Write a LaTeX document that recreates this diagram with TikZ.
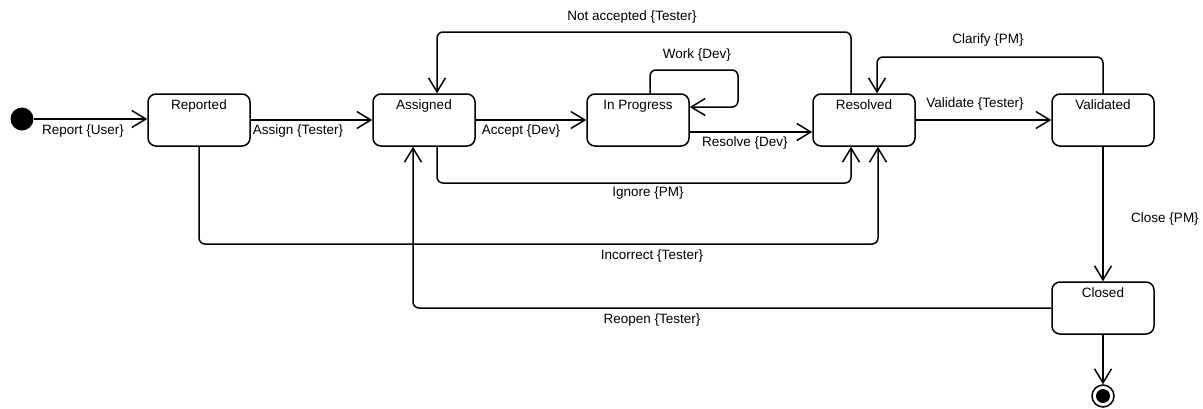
\documentclass[tikz,border=0pt]{standalone}
\usepackage{fontspec}
\setmainfont{Liberation Sans}
\usetikzlibrary{arrows.meta,positioning,calc}

\begin{document}
\begin{tikzpicture}[x=1pt, y=-1pt,
  state/.style={draw, line width=1.5pt, rounded corners=8pt, minimum width=102pt, minimum height=52pt,
    text height=10pt, text depth=31pt, inner ysep=3pt, font=\fontsize{13.5}{16}\selectfont},
  trans/.style={-{Straight Barb[length=14pt,width=17pt]}, line width=1.5pt, rounded corners=6pt},
  lbl/.style={font=\fontsize{13.5}{16}\selectfont, inner sep=1pt}
]
\useasboundingbox (0,0) rectangle (1203,408);

\node[circle, fill=black, minimum size=23pt, inner sep=0pt] (init) at (22,119) {};
\node[state] (rep) at (199,120) {Reported};
\node[state] (asg) at (424,120) {Assigned};
\node[state] (prg) at (638,120) {In Progress};
\node[state] (res) at (864,120) {Resolved};
\node[state] (val) at (1103,120) {Validated};
\node[state] (clo) at (1103,308) {Closed};
\node[circle, draw, line width=1.5pt, minimum size=22pt, inner sep=0pt] (fin) at (1103,396) {};
\fill (fin.center) circle (7pt);

% main line
\draw[trans] (init) -- (rep.west |- init);
\draw[trans] (rep) -- (asg);
\draw[trans] (asg) -- (prg);
\draw[trans] ([yshift=-12pt]prg.east) -- ([yshift=-12pt]res.west);
\draw[trans] (res) -- (val);
\draw[trans] (val) -- (clo);
\draw[trans] (clo) -- (fin);

% loops and returns
\draw[trans] ([xshift=12pt]prg.north) |- (738,70) |- ([yshift=13pt]prg.east);
\draw[trans] ([xshift=-13pt]res.north) |- (437,32) -- ([xshift=13pt]asg.north);
\draw[trans] ([xshift=13pt]asg.south) |- (851,183) -- ([xshift=-13pt]res.south);
\draw[trans] (rep.south) |- (878,244) -- ([xshift=14pt]res.south);
\draw[trans] (clo.west) -| ([xshift=-11pt]asg.south);
\draw[trans] (val.north) |- (877,57) -- ([xshift=13pt]res.north);

\node[lbl] (l1) at (83,131) {Report \{User\}};
\node[lbl] (l2) at (298,131) {Assign \{Tester\}};
\node[lbl] (l3) at (521,131) {Accept \{Dev\}};
\node[lbl] (l4) at (745,143) {Resolve \{Dev\}};
\node[lbl] (l5) at (697,55) {Work \{Dev\}};
\node[lbl] (l6) at (632,17) {Not accepted \{Tester\}};
\node[lbl] (l7) at (648,193) {Ignore \{PM\}};
\node[lbl] (l8) at (652,256) {Incorrect \{Tester\}};
\node[lbl] (l9) at (652,320) {Reopen \{Tester\}};
\node[lbl] (l10) at (975,104) {Validate \{Tester\}};
\node[lbl] (l11) at (988,40) {Clarify \{PM\}};
\node[lbl] (l12) at (1165,219) {Close \{PM\}};
\end{tikzpicture}
\end{document}
